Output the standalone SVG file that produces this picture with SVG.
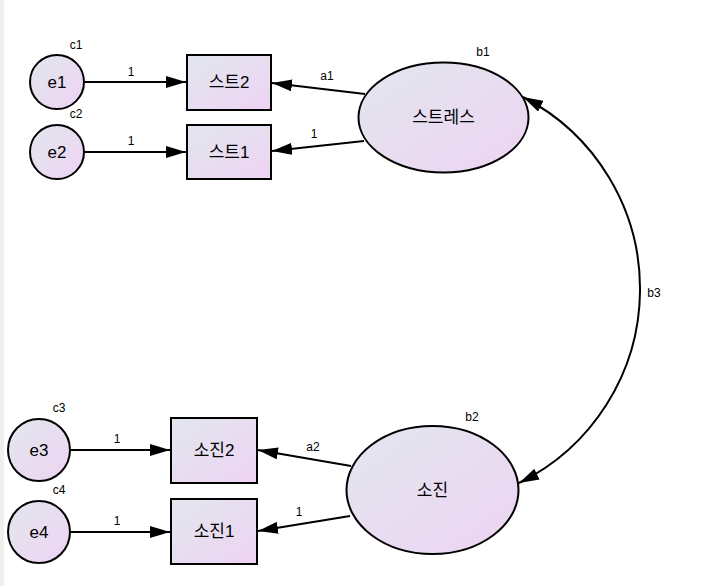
<svg xmlns="http://www.w3.org/2000/svg" width="705" height="586" viewBox="0 0 705 586">
<defs>
<linearGradient id="g" x1="0" y1="0" x2="1" y2="1">
<stop offset="0" stop-color="#e2e7ee"/>
<stop offset="1" stop-color="#eed3f3"/>
</linearGradient>
<marker id="ah" viewBox="0 0 20 12" refX="20" refY="6" markerWidth="20" markerHeight="12" markerUnits="userSpaceOnUse" orient="auto-start-reverse">
<path d="M0,0 L20,6 L0,12 Z" fill="#000"/>
</marker>
<style>
.n{fill:url(#g);stroke:#000;stroke-width:2}
.t{font-family:"Liberation Sans","Noto Sans CJK KR",sans-serif;font-size:17px;text-anchor:middle;fill:#000}
.s{font-family:"Liberation Sans",sans-serif;font-size:12px;text-anchor:middle;fill:#000}
.c{fill:none;stroke:#000;stroke-width:2}
</style>
</defs>
<rect x="0" y="0" width="705" height="586" fill="#fff"/>
<rect x="0" y="0" width="4" height="586" fill="#efefef"/>
<g id="connectors">
<line class="c" x1="85" y1="82" x2="186" y2="82" marker-end="url(#ah)"/>
<line class="c" x1="85" y1="152" x2="186" y2="152" marker-end="url(#ah)"/>
<line class="c" x1="365" y1="94" x2="272" y2="83" marker-end="url(#ah)"/>
<line class="c" x1="364" y1="141" x2="272" y2="151" marker-end="url(#ah)"/>
<line class="c" x1="71" y1="450" x2="170" y2="450" marker-end="url(#ah)"/>
<line class="c" x1="71" y1="532" x2="170" y2="532" marker-end="url(#ah)"/>
<line class="c" x1="351" y1="466" x2="258" y2="450" marker-end="url(#ah)"/>
<line class="c" x1="350" y1="516" x2="258" y2="531" marker-end="url(#ah)"/>
<path class="c" d="M523,97 A216,216 0 0 1 519,483" marker-start="url(#ah)" marker-end="url(#ah)"/>
<text class="s" x="131" y="76">1</text>
<text class="s" x="131" y="145">1</text>
<text class="s" x="327" y="80">a1</text>
<text class="s" x="314" y="138">1</text>
<text class="s" x="117" y="443">1</text>
<text class="s" x="117" y="525">1</text>
<text class="s" x="313" y="451">a2</text>
<text class="s" x="299" y="516">1</text>
<text class="s" x="654" y="297">b3</text>
</g>
<g id="e1"><circle class="n" cx="57" cy="82" r="27"/><text class="t" x="57" y="88">e1</text><text class="s" x="76" y="49">c1</text></g>
<g id="e2"><circle class="n" cx="57" cy="152" r="27"/><text class="t" x="57" y="158">e2</text><text class="s" x="76" y="118">c2</text></g>
<g id="e3"><circle class="n" cx="39" cy="450" r="31"/><text class="t" x="39" y="456">e3</text><text class="s" x="59" y="412">c3</text></g>
<g id="e4"><circle class="n" cx="39" cy="532" r="31"/><text class="t" x="39" y="538">e4</text><text class="s" x="59" y="494">c4</text></g>
<g id="st2"><rect class="n" x="187" y="55" width="84" height="55"/><text class="t" x="229" y="88">스트2</text></g>
<g id="st1"><rect class="n" x="187" y="125" width="84" height="54"/><text class="t" x="229" y="158">스트1</text></g>
<g id="sj2"><rect class="n" x="171" y="418" width="86" height="65"/><text class="t" x="214" y="456">소진2</text></g>
<g id="sj1"><rect class="n" x="171" y="499" width="86" height="65"/><text class="t" x="214" y="537">소진1</text></g>
<g id="stress"><ellipse class="n" cx="443.5" cy="117.5" rx="85" ry="55"/><text class="t" x="443.5" y="123">스트레스</text><text class="s" x="483" y="56">b1</text></g>
<g id="burnout"><ellipse class="n" cx="432.5" cy="490" rx="86" ry="64"/><text class="t" x="432.5" y="496">소진</text><text class="s" x="472" y="421">b2</text></g>
</svg>
